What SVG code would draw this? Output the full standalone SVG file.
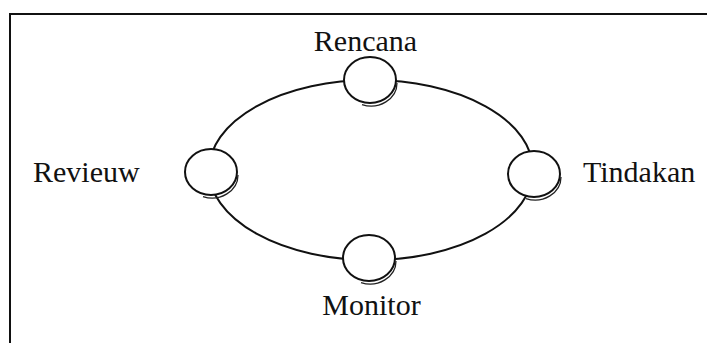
<svg xmlns="http://www.w3.org/2000/svg" width="707" height="343" viewBox="0 0 707 343">
<style>
.frame{fill:none;stroke:#111;stroke-width:2}
.conn{fill:none;stroke:#111;stroke-width:2}
.node{fill:#fff;stroke:#111;stroke-width:2}
.shadow{fill:none;stroke:#222;stroke-width:1.3}
.lbl{font-family:"Liberation Serif","Times New Roman",serif;font-size:30px;fill:#111}
</style>
<rect width="707" height="343" fill="#fff"/>
<path class="frame" d="M10,343 V14 H707"/>
<g id="connectors">
<path class="conn" d="M371,80 A162,90 0 0 1 533,170"/>
<path class="conn" d="M533,170 A162,90 0 0 1 371,260"/>
<path class="conn" d="M371,260 A162,90 0 0 1 209,170"/>
<path class="conn" d="M209,170 A162,90 0 0 1 371,80"/>
</g>
<g id="rencana">
<ellipse class="node" cx="370" cy="80" rx="26" ry="23"/>
<path class="shadow" d="M397,83 A26,23 0 0 1 362,104.6"/>
<text class="lbl" x="365.5" y="51" text-anchor="middle">Rencana</text>
</g>
<g id="revieuw">
<ellipse class="node" cx="211" cy="172" rx="26" ry="23"/>
<path class="shadow" d="M238,175 A26,23 0 0 1 203,196.6"/>
<text class="lbl" x="33" y="182">Revieuw</text>
</g>
<g id="tindakan">
<ellipse class="node" cx="534" cy="174" rx="26" ry="23"/>
<path class="shadow" d="M561,177 A26,23 0 0 1 526,198.6"/>
<text class="lbl" x="583" y="182">Tindakan</text>
</g>
<g id="monitor">
<ellipse class="node" cx="369" cy="258" rx="26" ry="23"/>
<path class="shadow" d="M396,261 A26,23 0 0 1 361,282.6"/>
<text class="lbl" x="371.5" y="315" text-anchor="middle">Monitor</text>
</g>
</svg>
